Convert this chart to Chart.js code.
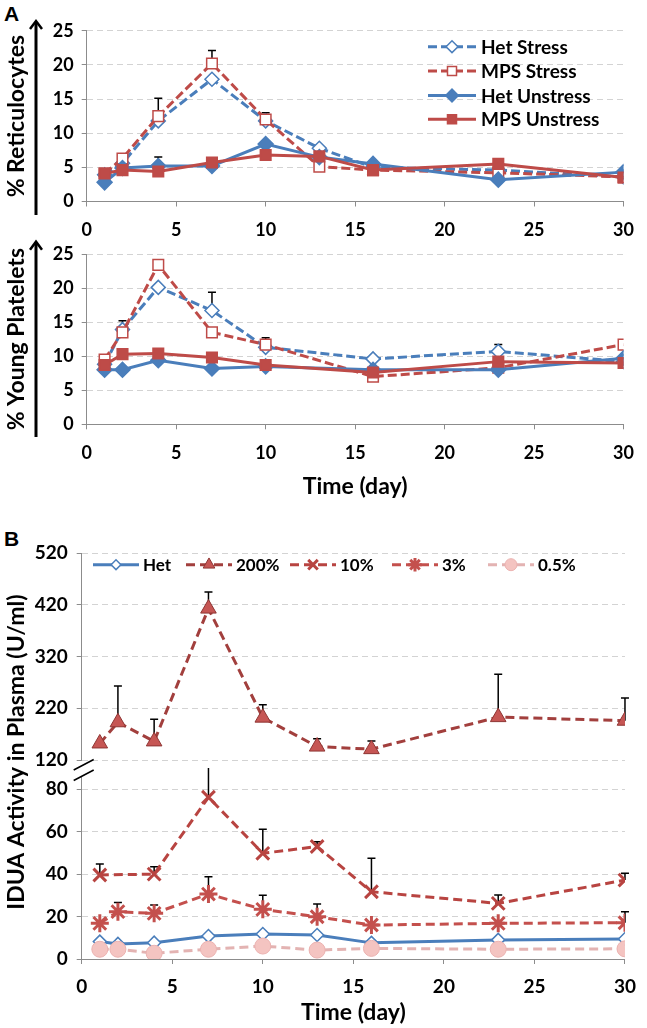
<!DOCTYPE html>
<html>
<head>
<meta charset="utf-8">
<script src="https://cdn.jsdelivr.net/npm/chart.js@4.4.1/dist/chart.umd.min.js"></script>
<style>
  html, body { margin: 0; padding: 0; background: #fff; }
  #wrap { position: relative; width: 647px; height: 1028px; overflow: hidden; }
  canvas { position: absolute; left: 0; }
  .panel { position: absolute; font: bold 21px "Liberation Sans", Arial, sans-serif; color: #000; }
</style>
</head>
<body>
<div id="wrap">
  <div class="panel" style="left:4px;top:2px">A</div>
  <canvas id="retic" width="647" height="240" style="top:0"></canvas>
  <canvas id="plt" width="647" height="278" style="top:232px"></canvas>
  <div class="panel" style="left:4px;top:527px">B</div>
  <canvas id="idua" width="647" height="498" style="top:530px"></canvas>
</div>
<script>
// ---- data ----
const DAYS = [1, 2, 4, 7, 10, 13, 16, 23, 30];
const DAYS_PLT = [1, 2, 4, 7, 10, 16, 23, 30];
const X_TICKS = [0, 5, 10, 15, 20, 25, 30];
const Y_TICKS_A = [0, 5, 10, 15, 20, 25];
const Y_TICKS_B_TOP = [120, 220, 320, 420, 520];
const Y_TICKS_B_BOT = [0, 20, 40, 60, 80];

// % reticulocytes
const RET_HET_STRESS   = [3.9, 5.6, 11.8, 17.9, 11.8, 7.8, 5.0, 4.6, 3.6];
const RET_MPS_STRESS   = [4.1, 6.3, 12.5, 20.2, 12.0, 5.1, 4.6, 4.2, 3.6];
const RET_HET_UNSTRESS = [2.8, 4.9, 5.2, 5.2, 8.4, 6.5, 5.5, 3.2, 4.3];
const RET_MPS_UNSTRESS = [4.1, 4.6, 4.4, 5.7, 6.8, 6.6, 4.6, 5.5, 3.5];
const RET_MPS_STRESS_ERR   = [0, 0, 2.6, 1.9, 1.0, 0, 0, 0, 0];
const RET_HET_UNSTRESS_ERR = [0, 0, 1.3, 0, 0, 0, 0, 0, 0];

// % young platelets (no day 13)
const PLT_HET_STRESS   = [8.8, 13.9, 20.1, 16.7, 11.3, 9.6, 10.7, 9.2];
const PLT_MPS_STRESS   = [9.5, 13.5, 23.4, 13.5, 11.7, 7.0, 8.3, 11.7];
const PLT_HET_UNSTRESS = [8.0, 8.0, 9.4, 8.2, 8.5, 8.0, 8.0, 9.7];
const PLT_MPS_UNSTRESS = [8.7, 10.3, 10.4, 9.8, 8.7, 7.6, 9.2, 9.0];
const PLT_HET_STRESS_ERR = [0, 1.3, 0, 2.7, 0, 0, 1.0, 0];
const PLT_MPS_STRESS_ERR = [0, 0, 0, 0, 1.0, 0, 0, 0];

// IDUA activity in plasma (U/ml)
const IDUA_HET  = [8.2, 7.1, 7.7, 10.8, 11.8, 11.3, 7.6, 9.0, 9.4];
const IDUA_200  = [152, 193, 156, 413, 202, 146, 141, 203, 196];
const IDUA_10   = [39.6, null, 40.0, 76.2, 49.8, 53.0, 31.7, 26.2, 37.2];
const IDUA_3    = [16.8, 22.3, 21.5, 30.6, 23.4, 19.9, 16.0, 16.8, 17.1];
const IDUA_05   = [4.6, 4.6, 2.7, 4.6, 6.1, 4.2, 5.0, 4.6, 4.8];
const IDUA_200_ERR = [0, 70, 43, 32, 25, 15, 16, 83, 44];
const IDUA_10_ERR  = [5.2, 0, 3.5, 20, 11.3, 2.3, 15.8, 4.0, 3.2];
const IDUA_3_ERR   = [0, 4.3, 4.0, 8.2, 6.6, 6.0, 0, 0, 5.2];

// ---- styling ----
const BLUE = '#4A7EBB';
const RED = '#BE4B48';
const DARK_RED = '#A23F3D';
const PINK = '#E3B3B2';
const AXIS_GRAY = '#8C8C8C';
const GRID_GRAY = '#D3D3D3';
const TICK_FONT_A = { family: 'Lato', size: 18, weight: 'bold' };
const TICK_FONT_B = { family: 'Lato', size: 19, weight: 'bold' };
const TITLE_FONT = { family: 'Lato', size: 23, weight: 'bold' };

Chart.defaults.font.family = 'Lato';

const el = (id) => document.getElementById(id);

function fixTicks(values){
  return (axis) => { axis.ticks = values.map(v => ({ value: v })); };
}

function xAxis(height, font, pad, title, titlePad){
  return {
    type: 'linear', min: 0, max: 30,
    afterBuildTicks: fixTicks(X_TICKS),
    afterFit: (axis) => { axis.height = height; },
    grid: { drawOnChartArea: false, color: AXIS_GRAY, tickLength: 5 },
    border: { color: AXIS_GRAY },
    ticks: { color: '#000', font, padding: pad, maxRotation: 0 },
    title: title
      ? { display: true, text: title, color: '#000', font: TITLE_FONT, padding: { top: 0, bottom: titlePad } }
      : { display: false }
  };
}

function yAxis(o){
  return {
    type: 'linear', position: 'left', min: o.min, max: o.max,
    stack: o.stack, stackWeight: o.weight,
    afterBuildTicks: fixTicks(o.ticks),
    afterFit: (axis) => { axis.width = o.width; },
    grid: {
      color: (c) => (c.tick && c.tick.value === 0) ? 'rgba(0,0,0,0)' : GRID_GRAY,
      tickColor: AXIS_GRAY, tickLength: 5
    },
    border: { color: AXIS_GRAY, dash: [6, 4] },
    ticks: { color: '#000', font: o.font, padding: o.pad },
    title: o.title
      ? { display: true, text: o.title, color: '#000', font: TITLE_FONT, padding: { top: 3, bottom: 0 } }
      : { display: false }
  };
}

function series(label, days, values, err, st){
  return Object.assign({
    label,
    data: days.map((d, i) => ({ x: d, y: values[i] })),
    errUp: err || null,
    spanGaps: true, tension: 0, fill: false,
    borderWidth: 3,
    pointBorderWidth: 1.5,
    pointHoverRadius: 0
  }, st);
}

// error bars (upper half only, like the original), drawn under the markers
const errorBars = {
  id: 'errorBars',
  beforeDatasetsDraw(chart){
    const ctx = chart.ctx;
    ctx.save();
    ctx.strokeStyle = '#000';
    ctx.lineWidth = 1.5;
    chart.data.datasets.forEach((ds, i) => {
      if (!ds.errUp) return;
      const meta = chart.getDatasetMeta(i);
      const ys = chart.scales[meta.yAxisID];
      ds.errUp.forEach((e, j) => {
        const p = ds.data[j];
        if (!e || p.y == null) return;
        const x = meta.data[j].x;
        const y0 = ys.getPixelForValue(p.y);
        let y1 = ys.getPixelForValue(p.y + e);
        let cap = true;
        if (y1 < ys.top) { y1 = ys.top; cap = false; }
        ctx.beginPath();
        ctx.moveTo(x, y0);
        ctx.lineTo(x, y1);
        if (cap) { ctx.moveTo(x - 4, y1); ctx.lineTo(x + 4, y1); }
        ctx.stroke();
      });
    });
    ctx.restore();
  }
};

// legend drawn inside the plot area, line + marker + label
const insideLegend = {
  id: 'insideLegend',
  afterDraw(chart, args, o){
    if (!o.font) return;
    const ctx = chart.ctx;
    chart.data.datasets.forEach((ds, i) => {
      const x = Array.isArray(o.x) ? o.x[i] : o.x;
      const y = Array.isArray(o.y) ? o.y[i] : o.y;
      ctx.save();
      ctx.strokeStyle = ds.borderColor;
      ctx.lineWidth = ds.borderWidth;
      ctx.setLineDash(ds.borderDash || []);
      ctx.beginPath();
      ctx.moveTo(x, y);
      ctx.lineTo(x + o.lineLen, y);
      ctx.stroke();
      ctx.setLineDash([]);
      ctx.fillStyle = ds.pointBackgroundColor;
      ctx.strokeStyle = ds.pointBorderColor;
      ctx.lineWidth = ds.pointBorderWidth;
      Chart.helpers.drawPoint(ctx, {
        pointStyle: ds.pointStyle, rotation: 0,
        radius: ds.pointRadius * o.markerScale, borderWidth: ds.pointBorderWidth
      }, x + o.lineLen / 2, y);
      ctx.fillStyle = '#000';
      ctx.font = o.font;
      ctx.textBaseline = 'middle';
      ctx.fillText(ds.label, x + o.lineLen + o.gap, y + 1);
      ctx.restore();
    });
  }
};

// the black arrow next to the y titles of panel A
const axisArrow = {
  id: 'axisArrow',
  afterDraw(chart, args, o){
    if (o.x == null) return;
    const ctx = chart.ctx;
    ctx.save();
    ctx.strokeStyle = '#000';
    ctx.lineWidth = 3;
    ctx.beginPath();
    ctx.moveTo(o.x, o.bottom);
    ctx.lineTo(o.x, o.top + 2);
    ctx.stroke();
    ctx.lineWidth = 2.5;
    ctx.beginPath();
    ctx.moveTo(o.x - 6, o.top + 8);
    ctx.lineTo(o.x, o.top);
    ctx.lineTo(o.x + 6, o.top + 8);
    ctx.stroke();
    ctx.restore();
  }
};

// the // marks on the broken axis + a y title spanning both halves
const axisBreak = {
  id: 'axisBreak',
  afterDraw(chart, args, o){
    if (!o.axis) return;
    const ctx = chart.ctx;
    const s = chart.scales[o.axis];
    const x = s.right, y = s.top;
    ctx.save();
    ctx.fillStyle = '#fff';
    ctx.beginPath();
    ctx.moveTo(x - 8, y + 2);
    ctx.lineTo(x + 12, y - 8.5);
    ctx.lineTo(x + 12, y + 2);
    ctx.lineTo(x - 8, y + 12.5);
    ctx.closePath();
    ctx.fill();
    ctx.strokeStyle = '#000';
    ctx.lineWidth = 1.5;
    ctx.beginPath();
    ctx.moveTo(x - 8, y + 2);
    ctx.lineTo(x + 12, y - 8.5);
    ctx.moveTo(x - 8, y + 12.5);
    ctx.lineTo(x + 12, y + 2);
    ctx.stroke();

    ctx.translate(o.titleX, o.titleY);
    ctx.rotate(-Math.PI / 2);
    ctx.fillStyle = '#000';
    ctx.font = 'bold 23px Lato';
    ctx.textAlign = 'center';
    ctx.textBaseline = 'middle';
    ctx.fillText(o.title, 0, 0);
    ctx.restore();
  }
};

Chart.register(errorBars, insideLegend, axisArrow, axisBreak);

const base = {
  responsive: false,
  animation: false,
  events: [],
  plugins: { legend: { display: false }, tooltip: { enabled: false } }
};

function panelA(id, days, sets, o){
  const [hs, ms, hu, mu] = sets;
  return new Chart(el(id), {
    type: 'line',
    data: {
      datasets: [
        series('Het Stress', days, hs.v, hs.e, { order: 4, borderColor: BLUE, borderDash: [9, 4],
          pointStyle: 'rectRot', pointRadius: 7, pointBackgroundColor: '#fff', pointBorderColor: BLUE }),
        series('MPS Stress', days, ms.v, ms.e, { order: 3, borderColor: RED, borderDash: [9, 4],
          pointStyle: 'rect', pointRadius: 7.5, pointBackgroundColor: '#fff', pointBorderColor: RED }),
        series('Het Unstress', days, hu.v, hu.e, { order: 2, borderColor: BLUE,
          pointStyle: 'rectRot', pointRadius: 7.5, pointBackgroundColor: BLUE, pointBorderColor: BLUE }),
        series('MPS Unstress', days, mu.v, mu.e, { order: 1, borderColor: RED,
          pointStyle: 'rect', pointRadius: 7.5, pointBackgroundColor: RED, pointBorderColor: RED })
      ]
    },
    options: Object.assign({}, base, {
      layout: { padding: { top: o.padTop, right: 20.3, left: 0, bottom: 0 } },
      scales: {
        x: xAxis(o.xHeight, TICK_FONT_A, 13, o.xTitle, o.xTitlePad),
        y: yAxis({ min: 0, max: 25, ticks: Y_TICKS_A, width: 86.7, font: TICK_FONT_A, pad: 8, title: o.yTitle })
      },
      plugins: Object.assign({}, base.plugins, {
        insideLegend: o.legend || {},
        axisArrow: o.arrow
      })
    })
  });
}

panelA('retic', DAYS, [
  { v: RET_HET_STRESS }, { v: RET_MPS_STRESS, e: RET_MPS_STRESS_ERR },
  { v: RET_HET_UNSTRESS, e: RET_HET_UNSTRESS_ERR }, { v: RET_MPS_UNSTRESS }
], {
  padTop: 30.7, xHeight: 38.5, yTitle: '% Reticulocytes',
  legend: { x: 428, y: [46.7, 71, 95.5, 119.3], lineLen: 48, gap: 5, markerScale: 0.85, font: 'bold 19px Lato' },
  arrow: { x: 36, top: 21, bottom: 215 }
});

panelA('plt', DAYS_PLT, [
  { v: PLT_HET_STRESS, e: PLT_HET_STRESS_ERR }, { v: PLT_MPS_STRESS, e: PLT_MPS_STRESS_ERR },
  { v: PLT_HET_UNSTRESS }, { v: PLT_MPS_UNSTRESS }
], {
  padTop: 22, xHeight: 85.7, xTitle: 'Time (day)', xTitlePad: 9.8, yTitle: '% Young Platelets',
  arrow: { x: 36, top: 9.7, bottom: 205 }
});

// panel B: broken y axis = two stacked y scales (declared bottom first) with a small empty gap scale
new Chart(el('idua'), {
  type: 'line',
  data: {
    datasets: [
      series('Het', DAYS, IDUA_HET, null, { order: 5, yAxisID: 'yBot', borderColor: BLUE,
        pointStyle: 'rectRot', pointRadius: 6.5, pointBackgroundColor: '#fff', pointBorderColor: BLUE }),
      series('200%', DAYS, IDUA_200, IDUA_200_ERR, { order: 4, yAxisID: 'yTop', borderColor: DARK_RED, borderDash: [9, 5],
        pointStyle: 'triangle', pointRadius: 9, pointBackgroundColor: '#C65654', pointBorderColor: '#8E3533', pointBorderWidth: 1 }),
      series('10%', DAYS, IDUA_10, IDUA_10_ERR, { order: 3, yAxisID: 'yBot', borderColor: '#B84441', borderDash: [9, 5],
        pointStyle: 'crossRot', pointRadius: 9, pointBackgroundColor: '#B84441', pointBorderColor: '#B84441', pointBorderWidth: 3 }),
      series('3%', DAYS, IDUA_3, IDUA_3_ERR, { order: 2, yAxisID: 'yBot', borderColor: '#C4504D', borderDash: [9, 5],
        pointStyle: 'star', pointRadius: 9, pointBackgroundColor: '#C4504D', pointBorderColor: '#C4504D', pointBorderWidth: 3 }),
      series('0.5%', DAYS, IDUA_05, null, { order: 1, yAxisID: 'yBot', borderColor: PINK, borderDash: [9, 5],
        pointStyle: 'circle', pointRadius: 8, pointBackgroundColor: '#F4C4C1', pointBorderColor: '#EBB2B0', pointBorderWidth: 1 })
    ]
  },
  options: Object.assign({}, base, {
    layout: { padding: { top: 23.3, right: 22, left: 0, bottom: 0 } },
    scales: {
      x: xAxis(69, TICK_FONT_B, 11, 'Time (day)', 1.5),
      yBot: yAxis({ min: 0, max: 90, ticks: Y_TICKS_B_BOT, width: 81.7, font: TICK_FONT_B, pad: 9,
        stack: 'b', weight: 191 }),
      yGap: { type: 'linear', position: 'left', stack: 'b', stackWeight: 8, min: 0, max: 1,
        afterFit: (axis) => { axis.width = 81.7; },
        grid: { display: false }, border: { display: false }, ticks: { display: false } },
      yTop: yAxis({ min: 120, max: 520, ticks: Y_TICKS_B_TOP, width: 81.7, font: TICK_FONT_B, pad: 9,
        stack: 'b', weight: 206.7 })
    },
    plugins: Object.assign({}, base.plugins, {
      insideLegend: { x: [93, 186, 290, 392, 488], y: 34.7, lineLen: 46, gap: 4, markerScale: 0.75, font: 'bold 17px Lato' },
      axisBreak: { axis: 'yBot', title: 'IDUA Activity in Plasma (U/ml)', titleX: 17, titleY: 222 }
    })
  })
});
</script>
</body>
</html>
